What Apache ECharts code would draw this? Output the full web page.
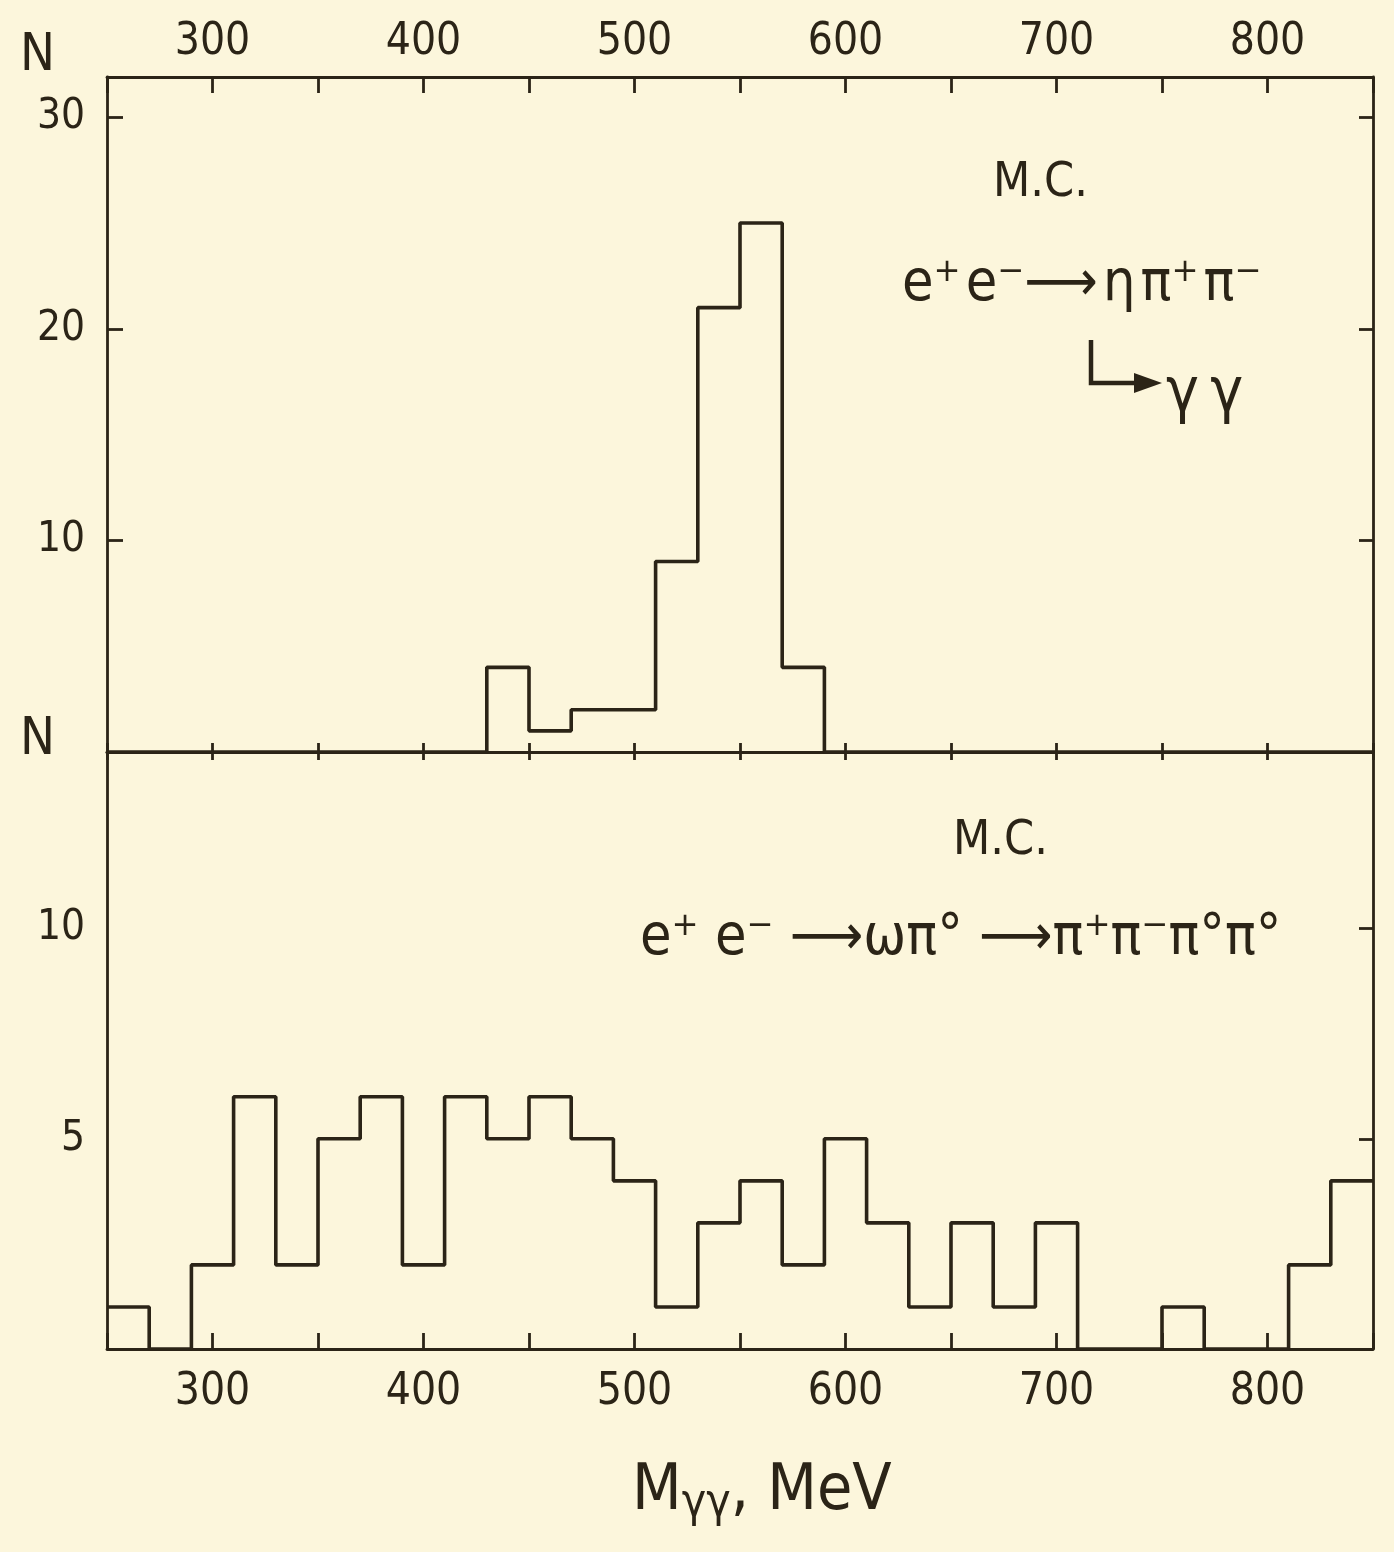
<!DOCTYPE html>
<html><head><meta charset="utf-8">
<script src="https://cdn.jsdelivr.net/npm/echarts@6/dist/echarts.min.js"></script>
<style>html,body{margin:0;padding:0;background:#fcf6dc}#c{width:1394px;height:1552px}</style>
</head><body><div id="c"></div>
<script>
// ---- data ----
const binLow = [250,270,290,310,330,350,370,390,410,430,450,470,490,510,530,550,570,590,610,630,650,670,690,710,730,750,770,790,810,830];
const binWidth = 20;
const etaCounts   = [0,0,0,0,0,0,0,0,0,4,1,2,2,9,21,25,4,0,0,0,0,0,0,0,0,0,0,0,0,0];
const omegaCounts = [1,0,2,6,2,5,6,2,6,5,6,5,4,1,3,4,2,5,3,1,3,1,3,0,0,1,0,0,2,4];
const xTickLabels = [300,400,500,600,700,800];
const topYLabels = [10,20,30];
const botYLabels = [5,10];

const INK = '#2b2417';
const FONT = "'DejaVu Sans Condensed','DejaVu Sans',sans-serif";

function stepData(counts){
  const pts = binLow.map((x,i)=>[x, counts[i]]);
  pts.push([binLow[binLow.length-1]+binWidth, counts[counts.length-1]]);
  return pts;
}

const line = {show:true, onZero:false, lineStyle:{color:INK, width:2.8}};
function xAx(grid, pos, tickLen, labels, margin){
  return {type:'value', gridIndex:grid, position:pos, min:250, max:850, interval:50,
    axisLine:line, splitLine:{show:false},
    axisTick:{show:true, inside:true, length:tickLen, lineStyle:{color:INK, width:2.8}},
    axisLabel:{show:labels, margin:margin||14, color:INK, fontFamily:FONT, fontSize:44,
      formatter:v=> xTickLabels.includes(v) ? String(v) : ''}};
}
function yAx(grid, pos, max, interval, tickLen, labelList){
  return {type:'value', gridIndex:grid, position:pos, min:0, max:max, interval:interval,
    axisLine:line, splitLine:{show:false},
    axisTick:{show:tickLen>0, inside:true, length:tickLen, lineStyle:{color:INK, width:2.8}},
    axisLabel:{show:!!labelList, margin:22, color:INK, fontFamily:FONT, fontSize:42,
      formatter:v=> (labelList && labelList.includes(v)) ? String(v) : ''}};
}

const chart = echarts.init(document.getElementById('c'), null, {renderer:'canvas'});
chart.setOption({
  backgroundColor:'#fcf6dc',
  animation:false,
  grid:[
    {left:107, top:77, width:1266, height:675},
    {left:107, top:752, width:1266, height:597}
  ],
  xAxis:[
    xAx(0,'top',16,true,12),
    xAx(0,'bottom',9,false),
    xAx(1,'top',8,false),
    xAx(1,'bottom',16,true,22)
  ],
  yAxis:[
    yAx(0,'left',31.9,10,16,topYLabels),
    yAx(0,'right',31.9,10,14,null),
    yAx(1,'left',14.2,5,0,botYLabels),
    yAx(1,'right',14.2,5,14,null)
  ],
  series:[
    {type:'line', step:'end', xAxisIndex:0, yAxisIndex:0, data:stepData(etaCounts),
     symbol:'none', z:5, lineStyle:{color:INK, width:3.6}},
    {type:'line', step:'end', xAxisIndex:3, yAxisIndex:2, data:stepData(omegaCounts),
     symbol:'none', z:5, lineStyle:{color:INK, width:3.6}}
  ],
  graphic:[
    {type:'text', left:20, top:30, style:{text:'N', fill:INK, font:"52px "+FONT}},
    {type:'text', left:20, top:714, style:{text:'N', fill:INK, font:"52px "+FONT}},
    {type:'text', left:993, top:160, style:{text:'M.C.', fill:INK, font:"48px "+FONT}},
    {type:'text', left:902, top:257, style:{text:'e\u207A\u200Ae\u207B\u27F6\u200A\u03B7\u200A\u03C0\u207A\u200A\u03C0\u207B', fill:INK, font:"57px "+FONT}},
    {type:'polyline', shape:{points:[[1091,340],[1091,383],[1140,383]]}, style:{stroke:INK, lineWidth:4.5, fill:null}},
    {type:'polygon', shape:{points:[[1134,373],[1162,383],[1134,393]]}, style:{fill:INK}},
    {type:'text', left:1166, top:364, style:{text:'\u03B3\u2009\u03B3', fill:INK, font:"62px "+FONT}},
    {type:'text', left:953, top:818, style:{text:'M.C.', fill:INK, font:"48px "+FONT}},
    {type:'text', left:640, top:911, style:{text:'e\u207A e\u207B \u27F6\u03C9\u03C0\u00B0 \u27F6\u03C0\u207A\u03C0\u207B\u03C0\u00B0\u03C0\u00B0', fill:INK, font:"57px "+FONT}},
    {type:'text', left:632, top:1460, style:{
      rich:{m:{fontSize:64, fontFamily:FONT, fill:INK}, s:{fontSize:46, fontFamily:FONT, fill:INK, padding:[24,0,0,0]}},
      text:'{m|M}{s|\u03B3\u03B3}{m|, MeV}'}}
  ]
});
</script></body></html>
